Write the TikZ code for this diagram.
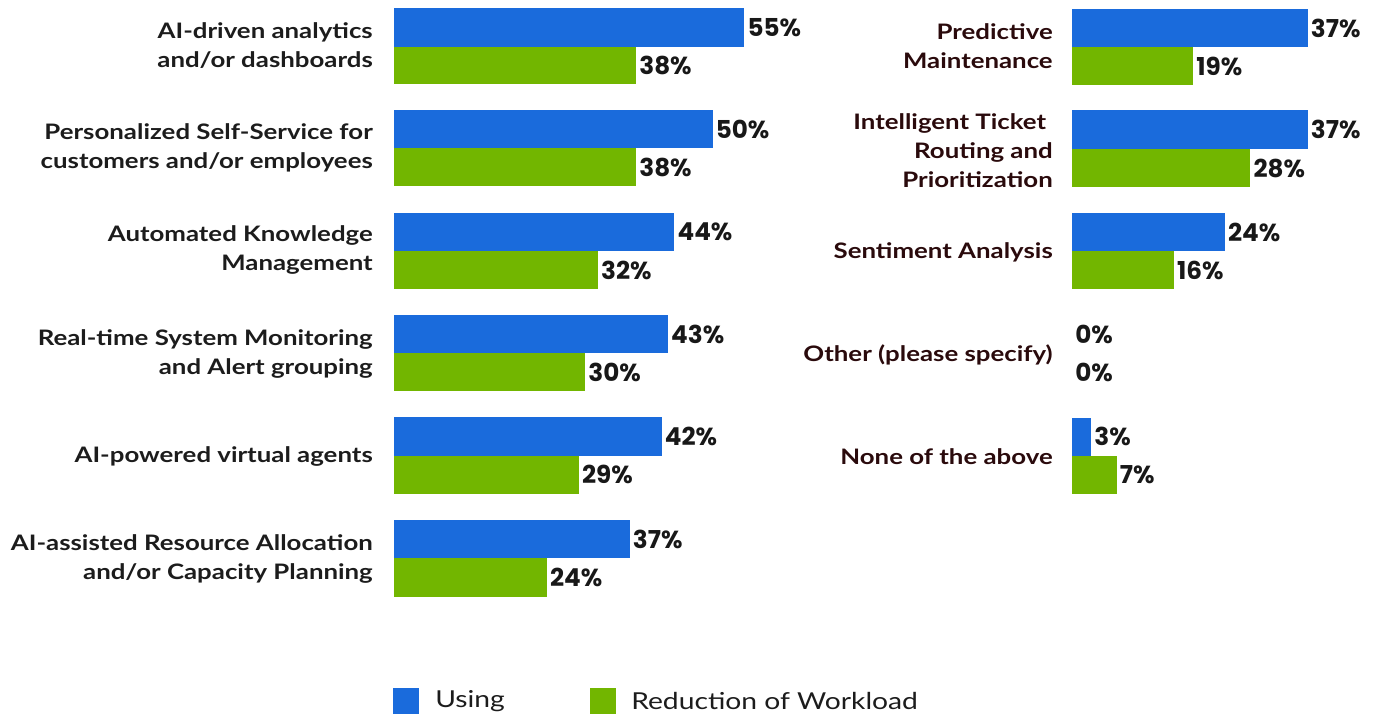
\documentclass[tikz,border=0pt]{standalone}
\usepackage{fontspec}
\setmainfont{Lato}
\newfontfamily\labfont{Lato}[FakeStretch=1.21]
\newfontfamily\valfont{Poppins}
\definecolor{barblue}{RGB}{26,107,220}
\definecolor{bargreen}{RGB}{114,182,0}
\definecolor{labgray}{RGB}{28,28,28}
\definecolor{labred}{RGB}{42,10,12}
\definecolor{valblack}{RGB}{24,24,24}
\tikzset{
  usingbar/.style={fill=barblue},
  redbar/.style={fill=bargreen},
  val/.style={font=\valfont\bfseries\fontsize{18.5}{20}\selectfont, text=valblack, inner sep=0pt, anchor=west},
  leftlab/.style={font=\labfont\bfseries\fontsize{16}{21.75}\selectfont, text=labgray, align=right, anchor=east, inner sep=0pt},
  rightlab/.style={font=\labfont\bfseries\fontsize{16}{21.75}\selectfont, text=labred, align=right, anchor=east, inner sep=0pt},
  legtext/.style={font=\labfont\fontsize{17.5}{20}\selectfont, text=labgray, anchor=west, inner sep=0pt},
}
% #1 name, #2 x0, #3 ytop, #4 pct, #5 style, #6 height
\newcommand\mybar[6]{%
  \ifnum#4>0 \fill[#5] (#2,#3) rectangle ++({#4*6.37},#6);\fi
  \node[val] (#1) at ({#2+#4*6.37+3},{#3+#6/2}) {#4\%};
}
\begin{document}
\begin{tikzpicture}[x=0.75pt,y=-0.75pt]
\useasboundingbox (0,0) rectangle (1374,716);
% ---------- left chart ----------
\node[leftlab] (l1) at (373,45.5) {AI-driven analytics\\and/or dashboards};
\node[leftlab] (l2) at (373,148) {Personalized Self-Service for\\customers and/or employees};
\node[leftlab] (l3) at (373,250.5) {Automated Knowledge\\Management};
\node[leftlab] (l4) at (373,353.5) {Real-time System Monitoring\\and Alert grouping};
\node[leftlab] (l5) at (373,456) {AI-powered virtual agents};
\node[leftlab] (l6) at (373,558.5) {AI-assisted Resource Allocation\\and/or Capacity Planning};
\mybar{u1}{394}{8}{55}{usingbar}{39}
\mybar{r1}{394}{47}{38}{redbar}{37.5}
\mybar{u2}{394}{110}{50}{usingbar}{38}
\mybar{r2}{394}{148}{38}{redbar}{38.5}
\mybar{u3}{394}{213}{44}{usingbar}{38}
\mybar{r3}{394}{251}{32}{redbar}{38.5}
\mybar{u4}{394}{315}{43}{usingbar}{38}
\mybar{r4}{394}{353}{30}{redbar}{38.5}
\mybar{u5}{394}{417}{42}{usingbar}{38.5}
\mybar{r5}{394}{455.5}{29}{redbar}{38.5}
\mybar{u6}{394}{520}{37}{usingbar}{38}
\mybar{r6}{394}{558}{24}{redbar}{38.5}
% ---------- right chart ----------
\node[rightlab] (m1) at (1053,46.5) {Predictive\\Maintenance};
\node[rightlab] (m2) at (1053,151) {Intelligent Ticket\phantom{i}\\Routing and\\Prioritization};
\node[rightlab] (m3) at (1053,252.5) {Sentiment Analysis};
\node[rightlab] (m4) at (1053,355) {Other (please specify)};
\node[rightlab] (m5) at (1053,457) {None of the above};
\mybar{v1}{1072}{9}{37}{usingbar}{38}
\mybar{s1}{1072}{47}{19}{redbar}{38}
\mybar{v2}{1072}{110}{37}{usingbar}{39}
\mybar{s2}{1072}{149}{28}{redbar}{38}
\mybar{v3}{1072}{213}{24}{usingbar}{38}
\mybar{s3}{1072}{251}{16}{redbar}{38}
\mybar{v4}{1072}{315}{0}{usingbar}{38}
\mybar{s4}{1072}{353}{0}{redbar}{38}
\mybar{v5}{1072}{418}{3}{usingbar}{37.5}
\mybar{s5}{1072}{455.5}{7}{redbar}{38}
% ---------- legend ----------
\fill[usingbar] (393,688) rectangle (419,714);
\node[legtext] (lgu) at (435,701) {Using};
\fill[redbar] (590,688) rectangle (616,714);
\node[legtext] (lgr) at (631,701) {Reduction of Workload};
\end{tikzpicture}
\end{document}
